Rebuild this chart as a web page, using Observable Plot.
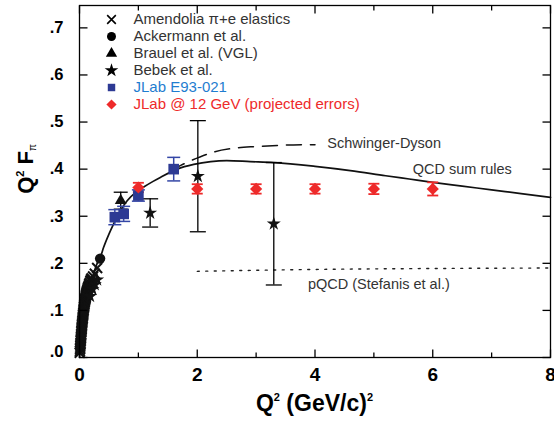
<!DOCTYPE html>
<html><head><meta charset="utf-8">
<script src="https://cdn.jsdelivr.net/npm/d3@7"></script>
<script src="https://cdn.jsdelivr.net/npm/@observablehq/plot@0.6"></script>
<style>body{margin:0;background:#fff} svg{display:block;overflow:visible}</style>
</head><body><div id="chart"></div>
<script>
// ---- tick values ----
const xTicksMajor = [0, 2, 4, 6, 8];
const xTicksMinor = [1, 3, 5, 7];
const yTicks = [0, 0.1, 0.2, 0.3, 0.4, 0.5, 0.6, 0.7];

// ---- data series (Q^2 in (GeV/c)^2, Q^2 F_pi) ----
const amendoliaQ2  = [0.004,0.007,0.010,0.012,0.014,0.016,0.018,0.020,0.022,0.024,0.026,0.028,0.030,0.032,0.034,0.036,0.038,0.040,0.042,0.045,0.047,0.050,0.052,0.055,0.057,0.060,0.062,0.065,0.067,0.070,0.073,0.076,0.079,0.082,0.085,0.088,0.091,0.095,0.098,0.102,0.105,0.109,0.112,0.116,0.120,0.124,0.128,0.133,0.137,0.143,0.150,0.158,0.165,0.175,0.185,0.195,0.205,0.230,0.260,0.300];
const amendoliaVal = [0.010,0.014,0.018,0.021,0.025,0.028,0.031,0.035,0.038,0.041,0.044,0.047,0.050,0.054,0.057,0.060,0.063,0.066,0.069,0.072,0.075,0.078,0.081,0.084,0.087,0.090,0.092,0.095,0.098,0.101,0.104,0.107,0.109,0.112,0.114,0.117,0.119,0.122,0.124,0.126,0.128,0.131,0.133,0.135,0.137,0.139,0.141,0.143,0.145,0.148,0.150,0.153,0.156,0.159,0.163,0.166,0.168,0.172,0.178,0.190];

const ackermannQ2 = [0.35];
const ackermannVal = [0.210];

const brauelQ2 = [0.70];
const brauelVal = [0.333];
const brauelErr = [0.018];

const bebekQ2  = [0.18, 0.22, 0.26, 0.30, 1.20, 2.01, 3.30];
const bebekVal = [0.130, 0.145, 0.155, 0.165, 0.307, 0.385, 0.284];
const bebekErr = [0, 0, 0, 0, 0.030, 0.118, 0.130];

const jlabQ2  = [0.60, 0.75, 1.00, 1.60];
const jlabVal = [0.298, 0.305, 0.344, 0.400];
const jlabErr = [0.016, 0.016, 0.012, 0.025];

const projQ2  = [1, 2, 3, 4, 5, 6];
const projVal = [0.361, 0.358, 0.358, 0.358, 0.358, 0.358];
const projErr = [0.010, 0.010, 0.010, 0.010, 0.011, 0.014];

// ---- theory curves ----
const qcdQ2  = [0,0.05,0.10,0.20,0.30,0.36,0.41,0.50,0.58,0.70,0.81,0.95,1.09,1.25,1.38,1.66,1.94,2.23,2.50,2.90,3.30,4.00,4.60,5.20,5.60,6.00,6.50,7.00,7.50,8.00];
const qcdVal = [0,0.055,0.100,0.160,0.200,0.215,0.234,0.262,0.284,0.313,0.333,0.350,0.362,0.374,0.383,0.400,0.410,0.416,0.418,0.416,0.414,0.406,0.397,0.386,0.379,0.372,0.364,0.356,0.348,0.340];

const sdQ2  = [1.55, 1.72, 2.03, 2.30, 2.60, 3.00, 3.50, 4.00];
const sdVal = [0.397, 0.408, 0.425, 0.437, 0.444, 0.448, 0.451, 0.452];

const pqcdQ2  = [2, 4, 6, 8];
const pqcdVal = [0.183, 0.187, 0.189, 0.190];

// ---- annotation labels ----
const curveLabels = ["Schwinger-Dyson", "QCD sum rules", "pQCD (Stefanis et al.)"];
const curveLabelQ2 = [4.21, 5.66, 3.88];
const curveLabelVal = [0.455, 0.399, 0.155];

// ---- legend ----
const legendLabels = ["Amendolia \u03c0+e elastics", "Ackermann et al.", "Brauel et al. (VGL)", "Bebek et al.", "JLab E93-021", "JLab @ 12 GeV (projected errors)"];
const legendSymbols = ["times", "circle", "triangle", "star", "square", "diamond2"];
const legendColors = ["black", "black", "black", "black", "#2d3a94", "#ee2a2a"];
const legendTextColors = ["#333", "#333", "#333", "#333", "#1f7dd0", "#ee2a2a"];
const legendR = [4, 4.5, 4.2, 4.3, 4.2, 4.6];

// ---- build tables ----
const zip = (xs, ys, es) => xs.map((x, i) => ({x, y: ys[i], e: es ? es[i] : 0}));
const amendolia = zip(amendoliaQ2, amendoliaVal);
const ackermann = zip(ackermannQ2, ackermannVal);
const brauel = zip(brauelQ2, brauelVal, brauelErr);
const bebek = zip(bebekQ2, bebekVal, bebekErr);
const bebekE = bebek.filter(d => d.e > 0);
const jlab = zip(jlabQ2, jlabVal, jlabErr);
const proj = zip(projQ2, projVal, projErr);
const qcd = zip(qcdQ2, qcdVal);
const sd = zip(sdQ2, sdVal);
const pqcd = zip(pqcdQ2, pqcdVal);
const labels = curveLabels.map((t, i) => ({t, x: curveLabelQ2[i], y: curveLabelVal[i]}));

const FONT = "Liberation Sans, Arial, Helvetica, sans-serif";
const lineSym = (dx, dy) => ({draw(ctx) { ctx.moveTo(0, 0); ctx.lineTo(dx, dy); }});
const capSym = (w) => ({draw(ctx) { ctx.moveTo(-w, 0); ctx.lineTo(w, 0); }});

function errorMarks(data, color, capW, sw) {
  return [
    Plot.ruleX(data, {x: "x", y1: d => d.y - d.e, y2: d => d.y + d.e, stroke: color, strokeWidth: sw}),
    Plot.dot(data, {x: "x", y: d => d.y + d.e, symbol: capSym(capW), stroke: color, fill: "none", strokeWidth: sw}),
    Plot.dot(data, {x: "x", y: d => d.y - d.e, symbol: capSym(capW), stroke: color, fill: "none", strokeWidth: sw})
  ];
}

const legendMarks = legendLabels.flatMap((label, i) => {
  const row = [{label}];
  const sym = legendSymbols[i];
  const isStroke = sym === "times";
  return [
    Plot.dot(row, {frameAnchor: "top-left", dx: 32, dy: 14 + 17 * i, symbol: sym, r: legendR[i],
      fill: isStroke ? "none" : legendColors[i], stroke: isStroke ? legendColors[i] : "none", strokeWidth: 1.6}),
    Plot.text(row, {frameAnchor: "top-left", dx: 54, dy: 14 + 17 * i, text: "label", textAnchor: "start",
      lineAnchor: "middle", fill: legendTextColors[i], fontSize: 15, fontFamily: FONT})
  ];
});

const W = 554, H = 421, ML = 79, MR = 4, MT = 5, MB = 64;
const yFmt = d => d3.format(".1f")(d).replace(/^0/, "");

const chart = Plot.plot({
  width: W, height: H,
  marginLeft: ML, marginRight: MR, marginTop: MT, marginBottom: MB,
  style: {fontFamily: FONT, background: "white", overflow: "visible"},
  x: {domain: [0, 8], axis: null},
  y: {domain: [0, 0.7475], axis: null},
  marks: [
    // theory curves
    Plot.line(pqcd, {x: "x", y: "y", stroke: "#222", strokeWidth: 1.4, strokeDasharray: "2,6.5", curve: "monotone-x"}),
    Plot.line(sd, {x: "x", y: "y", stroke: "#111", strokeWidth: 1.5, strokeDasharray: "15,9", curve: "monotone-x"}),
    Plot.line(qcd, {x: "x", y: "y", stroke: "#111", strokeWidth: 1.7, curve: "monotone-x"}),
    // error bars
    ...errorMarks(brauel, "black", 7, 1.3),
    ...errorMarks(bebekE, "black", 8, 1.3),
    ...errorMarks(jlab, "#3446a6", 6.5, 1.5),
    ...errorMarks(proj, "#ee2a2a", 5.5, 1.8),
    // data points
    Plot.dot(amendolia, {x: "x", y: "y", symbol: "times", r: 4.6, stroke: "#111", strokeWidth: 2}),
    Plot.dot(bebek, {x: "x", y: "y", symbol: "star", r: 4.4, fill: "#111"}),
    Plot.dot(ackermann, {x: "x", y: "y", symbol: "circle", r: 5.2, fill: "#111"}),
    Plot.dot(brauel, {x: "x", y: "y", symbol: "triangle", r: 4.4, fill: "#111"}),
    Plot.dot(jlab, {x: "x", y: "y", symbol: "square", r: 6, fill: "#2d3a94"}),
    Plot.dot(proj, {x: "x", y: "y", symbol: "diamond2", r: 5.5, fill: "#ee2a2a"}),
    // curve labels
    Plot.text(labels, {x: "x", y: "y", text: "t", textAnchor: "start", fontSize: 14.5, fill: "#333", fontFamily: FONT}),
    // frame
    Plot.frame({stroke: "black", strokeWidth: 1.3}),
    // inward ticks
    Plot.dot(xTicksMajor, {x: d => d, frameAnchor: "bottom", symbol: lineSym(0, -8), stroke: "black", fill: "none", strokeWidth: 1.3}),
    Plot.dot(xTicksMinor, {x: d => d, frameAnchor: "bottom", symbol: lineSym(0, -5), stroke: "black", fill: "none", strokeWidth: 1.3}),
    Plot.dot(xTicksMajor, {x: d => d, frameAnchor: "top", symbol: lineSym(0, 8), stroke: "black", fill: "none", strokeWidth: 1.3}),
    Plot.dot(xTicksMinor, {x: d => d, frameAnchor: "top", symbol: lineSym(0, 5), stroke: "black", fill: "none", strokeWidth: 1.3}),
    Plot.dot(yTicks, {y: d => d, frameAnchor: "left", symbol: lineSym(8, 0), stroke: "black", fill: "none", strokeWidth: 1.3}),
    Plot.dot(yTicks, {y: d => d, frameAnchor: "right", symbol: lineSym(-8, 0), stroke: "black", fill: "none", strokeWidth: 1.3}),
    // tick labels
    Plot.text(xTicksMajor, {x: d => d, frameAnchor: "bottom", dy: 17, text: d => String(d), lineAnchor: "middle",
      fontSize: 19, fontWeight: "bold", fill: "black", fontFamily: FONT}),
    Plot.text(yTicks.slice(1), {y: d => d, frameAnchor: "left", dx: -16, text: yFmt,
      textAnchor: "end", lineAnchor: "middle", fontSize: 16.5, fontWeight: "bold", fill: "black", fontFamily: FONT}),
    Plot.text(yTicks.slice(0, 1), {y: d => d, frameAnchor: "left", dx: -16, dy: -6, text: yFmt,
      textAnchor: "end", lineAnchor: "middle", fontSize: 16.5, fontWeight: "bold", fill: "black", fontFamily: FONT}),
    // legend
    ...legendMarks
  ]
});

document.getElementById("chart").appendChild(chart);

// axis titles with super/subscripts
const svg = d3.select(chart);
const xt = svg.append("text")
  .attr("x", ML + (W - ML - MR) / 2).attr("y", H - 10)
  .attr("text-anchor", "middle").attr("font-family", FONT)
  .attr("font-weight", "bold").attr("font-size", 23).attr("fill", "black");
xt.append("tspan").text("Q");
xt.append("tspan").attr("dy", -10).attr("font-size", 11).text("2");
xt.append("tspan").attr("dy", 10).text(" (GeV/c)");
xt.append("tspan").attr("dy", -10).attr("font-size", 11).text("2");

const yt = svg.append("text")
  .attr("transform", `translate(33,${MT + (H - MT - MB) / 2 - 12}) rotate(-90)`)
  .attr("text-anchor", "middle").attr("font-family", FONT)
  .attr("font-weight", "bold").attr("font-size", 22).attr("fill", "black");
yt.append("tspan").text("Q");
yt.append("tspan").attr("dy", -9).attr("font-size", 11).text("2");
yt.append("tspan").attr("dy", 9).text(" F");
yt.append("tspan").attr("dy", 3).attr("font-size", 10).attr("font-weight", "normal").text("\u03c0");
</script>
</body></html>
